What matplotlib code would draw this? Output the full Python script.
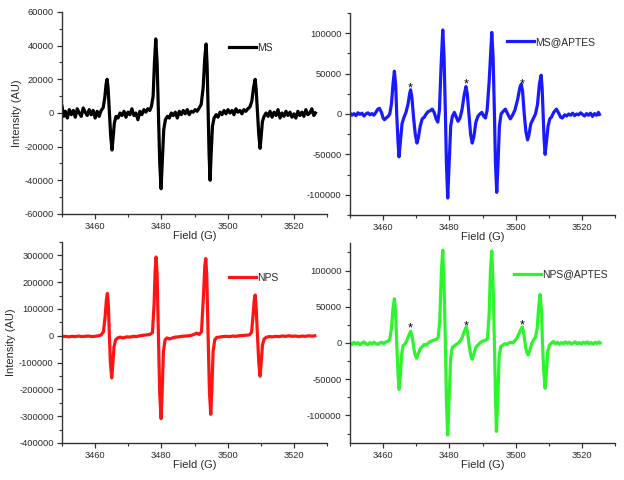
#!/usr/bin/env python3
"""EPR spectra of DMPO adducts for MS, MS@APTES, NPS and NPS@APTES (2x2 panels)."""

import matplotlib

matplotlib.use("Agg")
import matplotlib.pyplot as plt
import matplotlib.ticker as mticker

plt.rcParams["font.family"] = ["Liberation Sans", "DejaVu Sans"]
plt.rcParams["axes.unicode_minus"] = False

TEXT = "#2a2a2a"

# --- MS ---------------------------------------------------------------
MS_FIELD = [
    3450.0, 3450.5, 3451.0, 3451.6, 3452.2, 3452.8, 3453.4, 3454.0, 3454.6, 3455.2,
    3455.8, 3456.4, 3457.0, 3457.6, 3458.2, 3458.8, 3459.4, 3460.0, 3460.6, 3461.2,
    3461.8, 3462.4, 3462.9, 3463.3, 3463.6, 3463.9, 3464.3, 3464.7, 3465.1, 3465.4,
    3465.8, 3466.3, 3466.9, 3467.5, 3468.1, 3468.7, 3469.3, 3469.9, 3470.5, 3471.1,
    3471.7, 3472.3, 3472.9, 3473.5, 3474.1, 3474.7, 3475.3, 3475.9, 3476.5, 3477.0,
    3477.5, 3477.9, 3478.3, 3478.7, 3479.1, 3479.5, 3479.9, 3480.3, 3480.7, 3481.2,
    3481.8, 3482.4, 3483.0, 3483.6, 3484.2, 3484.8, 3485.4, 3486.0, 3486.6, 3487.2,
    3487.8, 3488.4, 3489.0, 3489.6, 3490.2, 3490.8, 3491.4, 3492.0, 3492.6, 3493.1,
    3493.5, 3493.8, 3494.1, 3494.4, 3494.7, 3495.0, 3495.4, 3495.9, 3496.5, 3497.1,
    3497.7, 3498.3, 3498.9, 3499.5, 3500.1, 3500.7, 3501.3, 3501.9, 3502.5, 3503.1,
    3503.7, 3504.3, 3504.9, 3505.5, 3506.1, 3506.7, 3507.3, 3507.8, 3508.3, 3508.6,
    3509.0, 3509.4, 3509.8, 3510.1, 3510.5, 3511.0, 3511.6, 3512.2, 3512.8, 3513.4,
    3514.0, 3514.6, 3515.2, 3515.8, 3516.4, 3517.0, 3517.6, 3518.2, 3518.8, 3519.4,
    3520.0, 3520.6, 3521.2, 3521.8, 3522.4, 3523.0, 3523.6, 3524.2, 3524.8, 3525.4,
    3526.0, 3526.5,
]
MS_INT = [
    4000, -2000, 1000, -3000, 2000, -1000, 1500, -2500, 2500, 0,
    -2000, 3000, 500, -1500, 2000, -1000, 1500, -3000, 1000, -2000,
    1500, 3000, 9000, 17000, 20000, 15000, 0, -14000, -22000, -15000,
    -6000, -2000, -3000, 0, -1500, 1000, -2500, 500, -1000, 2500,
    -1500, 0, -4000, 1000, -1000, 2000, 500, 2500, 1500, 4000,
    10000, 30000, 44000, 30000, 0, -30000, -45000, -28000, -10000, -4000,
    -2000, -3000, 0, -1500, 500, -3000, 1000, -1000, 1500, -500,
    2000, -1000, 1000, 500, 2000, 1000, 3000, 5000, 15000, 33000,
    41000, 28000, 0, -25000, -40000, -25000, -8000, -3000, -1000, -2500,
    500, -1000, 1500, -500, 2000, 0, 1500, -1000, 2500, 500,
    1500, -500, 2000, 1000, 2500, 3500, 7000, 15000, 20000, 14000,
    0, -13000, -21000, -14000, -5000, -2000, 0, -2000, 1000, -2500,
    500, -1500, 2000, -3000, 0, -2000, 1000, -1500, 500, -2500,
    -500, -3000, 1000, -1500, 500, -2000, 2000, -1000, 0, 2500,
    -1500, 0,
]

# --- MS@APTES ---------------------------------------------------------
MSA_FIELD = [
    3450.0, 3450.6, 3451.2, 3451.8, 3452.4, 3453.0, 3453.6, 3454.2, 3454.8, 3455.4,
    3456.0, 3456.6, 3457.2, 3457.8, 3458.4, 3458.9, 3459.5, 3460.0, 3460.4, 3460.9,
    3461.5, 3462.0, 3462.5, 3463.0, 3463.4, 3463.8, 3464.1, 3464.5, 3464.8, 3465.2,
    3465.7, 3466.3, 3466.9, 3467.5, 3468.0, 3468.3, 3468.7, 3469.2, 3469.7, 3470.2,
    3470.6, 3471.2, 3471.8, 3472.4, 3473.0, 3473.6, 3474.2, 3474.8, 3475.4, 3476.0,
    3476.5, 3477.0, 3477.5, 3478.0, 3478.4, 3478.8, 3479.1, 3479.5, 3479.9, 3480.4,
    3480.9, 3481.5, 3482.0, 3482.6, 3483.2, 3483.8, 3484.4, 3485.0, 3485.4, 3485.9,
    3486.4, 3486.9, 3487.4, 3488.0, 3488.6, 3489.2, 3489.8, 3490.4, 3490.9, 3491.4,
    3492.0, 3492.8, 3493.2, 3493.6, 3493.9, 3494.3, 3494.7, 3495.1, 3495.6, 3496.2,
    3496.9, 3497.6, 3498.4, 3499.0, 3499.8, 3500.6, 3501.3, 3501.7, 3502.1, 3502.6,
    3503.1, 3503.6, 3504.0, 3504.6, 3505.4, 3506.0, 3506.6, 3507.2, 3507.7, 3508.0,
    3508.3, 3508.6, 3508.9, 3509.3, 3509.8, 3510.3, 3510.8, 3511.5, 3512.3, 3513.0,
    3513.6, 3514.1, 3514.8, 3515.4, 3516.0, 3516.6, 3517.2, 3517.8, 3518.4, 3519.0,
    3519.6, 3520.2, 3520.8, 3521.4, 3522.0, 3522.6, 3523.2, 3523.8, 3524.4, 3525.0,
    3525.3,
]
MSA_INT = [
    1000, -1500, 500, -2000, 1500, -500, 1000, -2500, 0, 1500,
    -1000, 500, -1500, 2000, 6000, 7000, 2000, -5000, -7000, -5000,
    -3000, 0, 12000, 38000, 53000, 35000, 0, -35000, -53000, -35000,
    -12000, -4000, 2000, 12000, 25000, 30000, 20000, -5000, -25000, -36000,
    -30000, -15000, -6000, -4000, 0, 3000, 4000, 6000, 2000, -6000,
    -10000, 5000, 60000, 104000, 70000, 0, -60000, -104000, -65000, -15000,
    -3000, 2000, -3000, -9000, -5000, 5000, 22000, 34000, 25000, 0,
    -25000, -36000, -28000, -10000, -3000, 0, 2000, -3000, -5000, 5000,
    40000, 101000, 70000, 0, -60000, -97000, -60000, -15000, 0, 3000,
    6000, 0, -6000, -2000, 5000, 18000, 33000, 37000, 28000, 0,
    -22000, -32000, -26000, -12000, -5000, 0, 12000, 38000, 48000, 32000,
    0, -32000, -50000, -35000, -15000, -6000, -4000, 2000, 6000, 1000,
    -4000, -5000, -1000, -2500, 0, -1500, 1000, -2000, 0, -1000,
    1500, -500, -2500, 500, -1500, 1000, -3000, 500, -1500, 2000,
    -500,
]
MSA_STAR_X = [3468.3, 3485.1, 3502.0]
MSA_STAR_Y = [37000, 42000, 42000]

# --- NPS --------------------------------------------------------------
NPS_FIELD = [
    3450.0, 3451.0, 3452.0, 3453.0, 3454.0, 3455.0, 3456.0, 3457.0, 3458.0, 3459.0,
    3460.0, 3461.0, 3461.8, 3462.5, 3463.0, 3463.4, 3463.7, 3464.0, 3464.3, 3464.6,
    3465.0, 3465.3, 3465.7, 3466.2, 3466.8, 3467.5, 3468.5, 3469.5, 3470.5, 3471.5,
    3472.5, 3473.5, 3474.5, 3475.5, 3476.5, 3477.3, 3477.8, 3478.1, 3478.4, 3478.7,
    3479.1, 3479.5, 3479.9, 3480.2, 3480.6, 3481.1, 3481.7, 3482.5, 3483.3, 3484.2,
    3485.2, 3486.2, 3487.2, 3488.2, 3489.2, 3490.0, 3490.7, 3491.4, 3492.1, 3492.7,
    3493.1, 3493.4, 3493.7, 3494.1, 3494.5, 3494.9, 3495.2, 3495.6, 3496.1, 3496.7,
    3497.5, 3498.5, 3499.5, 3500.5, 3501.5, 3502.5, 3503.5, 3504.5, 3505.5, 3506.5,
    3507.2, 3507.7, 3508.0, 3508.3, 3508.6, 3509.0, 3509.4, 3509.8, 3510.1, 3510.5,
    3511.0, 3511.6, 3512.5, 3513.5, 3514.5, 3515.5, 3516.5, 3517.5, 3518.5, 3519.5,
    3520.5, 3521.5, 3522.5, 3523.5, 3524.5, 3525.5, 3526.3,
]
NPS_INT = [
    -3000, -2000, -4000, -2000, -3000, -1000, -3000, -2000, -1000, -3000,
    -2000, 0, 3000, 15000, 70000, 135000, 158000, 110000, 0, -100000,
    -157000, -110000, -40000, -15000, -8000, -5000, -8000, -4000, -5000, -2000,
    -3000, 0, 2000, 3000, 5000, 12000, 120000, 240000, 294000, 230000,
    0, -220000, -309000, -220000, -60000, -15000, -8000, -12000, -8000, -5000,
    -4000, -2000, -1000, 0, 2000, 6000, 10000, 5000, 15000, 150000,
    260000, 288000, 220000, 0, -210000, -293000, -210000, -60000, -15000, -6000,
    -5000, -3000, -2000, -3000, -1000, -2000, 0, 1000, 2000, 3000,
    12000, 80000, 130000, 152000, 105000, 0, -100000, -151000, -105000, -35000,
    -12000, -6000, -3000, -4000, -2000, -3000, -1000, -2000, 0, -2000,
    -1000, -3000, -1000, -2000, 0, -1500, 0,
]

# --- NPS@APTES --------------------------------------------------------
NPSA_FIELD = [
    3450.0, 3450.6, 3451.2, 3451.8, 3452.4, 3453.0, 3453.6, 3454.2, 3454.8, 3455.4,
    3456.0, 3456.6, 3457.2, 3457.8, 3458.4, 3459.0, 3459.6, 3460.2, 3460.8, 3461.4,
    3462.0, 3462.5, 3463.0, 3463.4, 3463.8, 3464.1, 3464.5, 3464.8, 3465.2, 3465.6,
    3466.0, 3466.5, 3467.1, 3467.7, 3468.3, 3468.8, 3469.3, 3469.7, 3470.1, 3470.6,
    3471.2, 3471.8, 3472.4, 3473.0, 3473.6, 3474.2, 3474.8, 3475.4, 3476.0, 3476.6,
    3477.1, 3477.6, 3478.0, 3478.4, 3478.8, 3479.1, 3479.5, 3479.9, 3480.4, 3480.9,
    3481.5, 3482.1, 3482.7, 3483.3, 3483.9, 3484.5, 3485.1, 3485.5, 3486.0, 3486.5,
    3486.9, 3487.4, 3488.0, 3488.6, 3489.2, 3489.8, 3490.4, 3491.0, 3491.5, 3492.0,
    3492.4, 3492.8, 3493.2, 3493.6, 3493.9, 3494.2, 3494.6, 3495.0, 3495.5, 3496.1,
    3496.7, 3497.3, 3497.9, 3498.5, 3499.1, 3499.7, 3500.3, 3500.9, 3501.5, 3502.0,
    3502.4, 3502.9, 3503.3, 3503.8, 3504.3, 3504.9, 3505.5, 3506.0, 3506.5, 3507.0,
    3507.4, 3507.8, 3508.1, 3508.5, 3508.9, 3509.3, 3509.7, 3510.2, 3510.8, 3511.4,
    3512.0, 3512.6, 3513.2, 3513.8, 3514.4, 3515.0, 3515.6, 3516.2, 3516.8, 3517.4,
    3518.0, 3518.6, 3519.2, 3519.8, 3520.4, 3521.0, 3521.6, 3522.2, 3522.8, 3523.4,
    3524.0, 3524.6, 3525.2, 3525.5,
]
NPSA_INT = [
    0, -2000, 1000, -1500, 500, -2500, 0, 1500, -1000, -2500,
    500, -1500, 1000, -500, -2000, 0, 1000, -1000, 1500, 2000,
    5000, 20000, 48000, 61000, 40000, 0, -42000, -64000, -45000, -15000,
    -4000, -2000, 3000, 10000, 16000, 8000, -8000, -17000, -21000, -15000,
    -8000, -5000, -2000, -3000, 0, 2000, 3000, 4000, 5000, 7000,
    30000, 100000, 128000, 80000, 0, -80000, -127000, -80000, -20000, -6000,
    -4000, -2000, 0, 3000, 8000, 16000, 22000, 15000, -5000, -18000,
    -22500, -15000, -6000, -3000, 0, 2000, 3000, 4000, 6000, 40000,
    100000, 127000, 80000, 0, -70000, -122000, -80000, -20000, -5000, -3000,
    -1000, -2000, 0, 1000, 0, 3000, 6000, 12000, 18000, 22000,
    15000, -2000, -12000, -16500, -10000, 0, 5000, 8000, 20000, 52000,
    67000, 45000, 0, -40000, -62500, -40000, -12000, -3000, 0, 2000,
    -1000, 1000, -1500, 500, -1000, 1500, -500, 1000, -1500, 0,
    1500, -1000, 500, -1500, 1000, -500, 1500, -1000, 500, -1500,
    1000, -500, 1500, 0,
]
NPSA_STAR_X = [3468.3, 3485.2, 3502.1]
NPSA_STAR_Y = [26000, 28500, 29000]

X_LIMITS = (3450, 3530)


def _style_axis(ax, ylim, major, minor):
    ax.set_xlim(*X_LIMITS)
    ax.set_ylim(*ylim)
    for side in ("top", "right"):
        ax.spines[side].set_visible(False)
    for side in ("left", "bottom"):
        ax.spines[side].set_color("#333333")
        ax.spines[side].set_linewidth(1.0)
    ax.xaxis.set_major_locator(mticker.MultipleLocator(20))
    ax.xaxis.set_minor_locator(mticker.MultipleLocator(10))
    ax.yaxis.set_major_locator(mticker.MultipleLocator(major))
    ax.yaxis.set_minor_locator(mticker.MultipleLocator(minor))
    ax.yaxis.set_major_formatter(mticker.FuncFormatter(lambda v, _: f"{int(round(v))}"))
    ax.tick_params(which="major", direction="out", length=3.5, width=0.9,
                   colors="#333333", labelsize=6.7, labelcolor=TEXT, pad=2.5)
    ax.tick_params(which="minor", direction="out", length=2, width=0.8, colors="#333333")
    ax.set_xlabel("Field (G)", fontsize=8, color=TEXT, labelpad=0)


def _panel(fig, rect, field, values, color, label, ylim, major, minor,
           legend_xy, ylabel=False, stars=None):
    ax = fig.add_axes(rect)
    ax.plot(field, values, color=color, lw=2.3, label=label, solid_joinstyle="round")
    _style_axis(ax, ylim, major, minor)
    if ylabel:
        ax.set_ylabel("Intensity (AU)", fontsize=8, color=TEXT, labelpad=2)
    if stars is not None:
        for sx, sy in zip(*stars):
            ax.annotate("*", (sx, sy), xytext=(0, -5.0), textcoords="offset points",
                        ha="center", va="baseline", fontsize=9, color="black")
    leg = ax.legend(loc="center left", bbox_to_anchor=legend_xy, frameon=False,
                    fontsize=7.5, handlelength=2.6, handletextpad=0.1,
                    borderpad=0, borderaxespad=0)
    for txt in leg.get_texts():
        txt.set_color(TEXT)
    return ax


def main() -> None:
    fig = plt.figure(figsize=(6.24, 4.8), dpi=100)

    _panel(fig, (0.0994, 0.5542, 0.4247, 0.4208), MS_FIELD, MS_INT, "black", "MS",
           (-60000, 60000), 20000, 10000, (0.63, 0.822), ylabel=True)
    _panel(fig, (0.5609, 0.5521, 0.4247, 0.4208), MSA_FIELD, MSA_INT, "#1a1aff", "MS@APTES",
           (-125000, 125000), 50000, 25000, (0.591, 0.858), stars=(MSA_STAR_X, MSA_STAR_Y))
    _panel(fig, (0.0994, 0.0771, 0.4247, 0.4188), NPS_FIELD, NPS_INT, "#ff1414", "NPS",
           (-400000, 350000), 100000, 50000, (0.63, 0.822), ylabel=True)
    _panel(fig, (0.5609, 0.0771, 0.4247, 0.4167), NPSA_FIELD, NPSA_INT, "#2cf52c", "NPS@APTES",
           (-138000, 138000), 50000, 25000, (0.619, 0.843), stars=(NPSA_STAR_X, NPSA_STAR_Y))

    fig.savefig("out.png", dpi=100)
    plt.close(fig)


if __name__ == "__main__":
    main()
